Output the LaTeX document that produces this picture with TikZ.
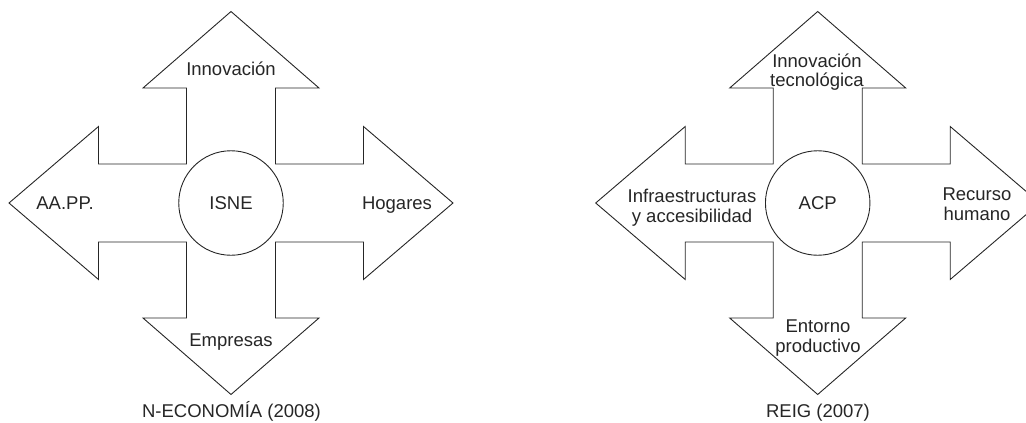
\documentclass[tikz,border=0pt]{standalone}
\usepackage{fontspec}
\setmainfont{Liberation Sans}
\begin{document}
\begin{tikzpicture}[x=1pt,y=-1pt,
  arrowline/.style={draw=black!85, line width=0.9pt, line join=miter, fill=white},
  lbl/.style={font=\fontsize{18.5}{19.5}\selectfont, text=black!85, inner sep=0pt, align=center},
  hub/.style={circle, draw=black!85, line width=0.9pt, fill=white, minimum size=104.5pt, inner sep=0pt, font=\fontsize{18.5}{19.5}\selectfont, text=black!85},
  crossarrow/.pic={
    \draw[arrowline] (0,-191.5) -- (88,-115) -- (44.5,-115) -- (44.5,-39) -- (132.5,-39) -- (132.5,-76.5)
      -- (222,0) -- (132.5,76.5) -- (132.5,39) -- (44.5,39) -- (44.5,115) -- (88,115)
      -- (0,191.5) -- (-88,115) -- (-44.5,115) -- (-44.5,39) -- (-132.5,39) -- (-132.5,76.5)
      -- (-222,0) -- (-132.5,-76.5) -- (-132.5,-39) -- (-44.5,-39) -- (-44.5,-115) -- (-88,-115) -- cycle;
  }]
\path[use as bounding box, clip] (0,0) rectangle (1026,423);

% Left figure
\pic at (231,203) {crossarrow};
\node[hub] (isne) at (231,203) {ISNE};
\node[lbl, anchor=base] (innov) at (231,75) {Innovación};
\node[lbl, anchor=base] (aapp) at (65,209) {AA.PP.};
\node[lbl, anchor=base] (hogares) at (397,209) {Hogares};
\node[lbl, anchor=base] (empresas) at (231,346) {Empresas};
\node[lbl, anchor=base] (cap1) at (231.5,417) {N-ECONOMÍA (2008)};

% Right figure
\pic at (817.7,203) {crossarrow};
\node[hub] (acp) at (817.7,203) {ACP};
\node[lbl, anchor=base] (innovtec) at (817,86.5) {Innovación\\tecnológica};
\node[lbl, anchor=base] (infra) at (692,222) {Infraestructuras\\y accesibilidad};
\node[lbl, anchor=base] (recurso) at (977,220) {Recurso\\humano};
\node[lbl, anchor=base] (entorno) at (818,352) {Entorno\\productivo};
\node[lbl, anchor=base] (cap2) at (818,417) {REIG (2007)};
\end{tikzpicture}
\end{document}
